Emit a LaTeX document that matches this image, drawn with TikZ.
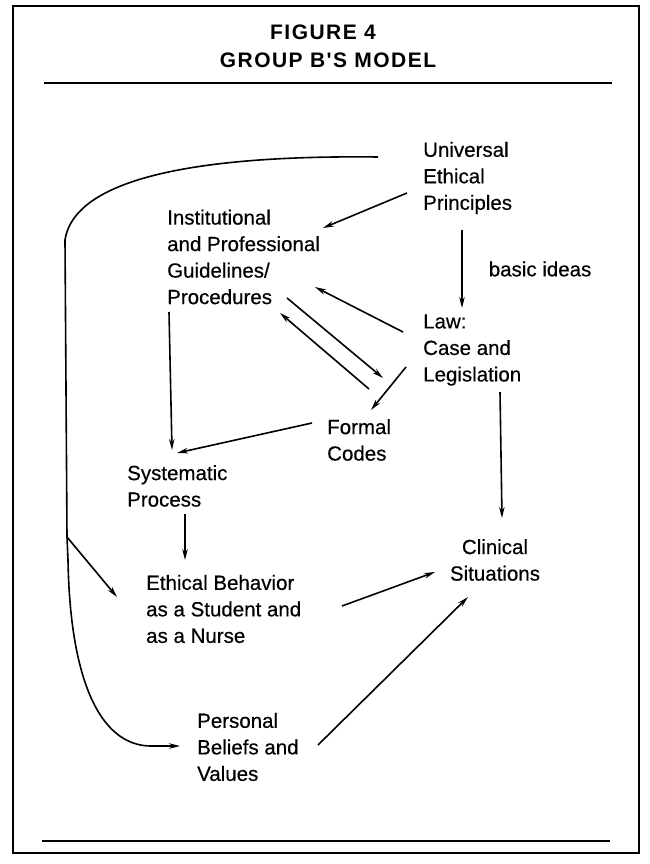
\documentclass[tikz,border=0pt]{standalone}
\usepackage{fontspec}
\setmainfont{Liberation Sans}
\newfontfamily\bodyfont{Liberation Sans}[FakeBold=0.4]
\newfontfamily\titlefont{Liberation Sans}[LetterSpace=7]
\usetikzlibrary{arrows.meta,calc}
\begin{document}
\begin{tikzpicture}[x=1pt,y=-1pt,
  txt/.style={font=\bodyfont\fontsize{20.5}{26.5}\selectfont, align=left, inner sep=0pt, anchor=west},
  ttl/.style={font=\titlefont\fontsize{21}{25}\selectfont\bfseries, inner sep=0pt},
  arr/.style={line width=1.6pt, -{Stealth[length=11pt,width=5.5pt]}},
  rule/.style={line width=2.6pt}]
\useasboundingbox (0,0) rectangle (649,864);
\draw[line width=1.6pt] (13,6) rectangle (639,853);
% title
\node[ttl] (fig) at (323,32) {FIGURE 4};
\node[ttl] (grp) at (328,60) {GROUP B'S MODEL};
\draw[rule] (44,83) -- (612,83);
\draw[rule] (42,841) -- (610,841);
% nodes
\node[txt] (univ) at (423,178) {Universal\\Ethical\\Principles};
\node[txt] (inst) at (167,257) {Institutional\\and Professional\\Guidelines/\\Procedures};
\node[txt] (law) at (423,350) {Law:\\Case and\\Legislation};
\node[txt] (formal) at (327,440) {Formal\\Codes};
\node[txt] (syst) at (127,486) {Systematic\\Process};
\node[txt] (ethb) at (146,609) {Ethical Behavior\\as a Student and\\as a Nurse};
\node[txt, align=center, anchor=center] (clin) at (495,560) {Clinical\\Situations};
\node[txt] (pers) at (197,747) {Personal\\Beliefs and\\Values};
% connectors
\draw[arr] ($(univ.west)+(-16,15)$) -- ($(inst.west)+(156,-29)$);
\draw[arr] ($(univ.west)+(39,52)$) -- node[midway, right=26pt, txt] (basic) {basic ideas} ($(law.west)+(39,-42)$);
\draw[arr] ($(law.west)+(-20,-18)$) -- ($(inst.west)+(148,30)$);
\draw[arr] ($(inst.west)+(120,41)$) -- ($(law.west)+(-40,28)$);
\draw[arr] ($(formal.west)+(42,-51)$) -- ($(inst.west)+(113,56)$);
\draw[arr] ($(law.west)+(-17,17)$) -- ($(formal.west)+(44,-30)$);
\draw[arr] ($(inst.west)+(2,55)$) -- ($(syst.west)+(45,-36)$);
\draw[arr] ($(formal.west)+(-15,-17)$) -- ($(syst.west)+(50,-33)$);
\draw[arr] ($(syst.west)+(58,28)$) -- ($(ethb.west)+(39,-49)$);
\draw[arr] ($(law.west)+(77,42)$) -- ($(clin.center)+(7,-42)$);
\draw[arr] ($(ethb.west)+(196,-3)$) -- ($(clin.center)+(-60,12)$);
\draw[arr] ($(pers.west)+(121,-2)$) -- ($(clin.center)+(-27,37)$);
\draw[arr] ($(univ.west)+(-45,-21)$) .. controls (210,155) and (75,175) .. (65,240)
  -- (67,537) coordinate (br) -- (68,560) .. controls (70,680) and (100,745) .. (150,746)
  -- ($(pers.west)+(-17,-1)$);
\draw[arr] (br) -- ($(ethb.west)+(-29,-12)$);
\end{tikzpicture}
\end{document}
